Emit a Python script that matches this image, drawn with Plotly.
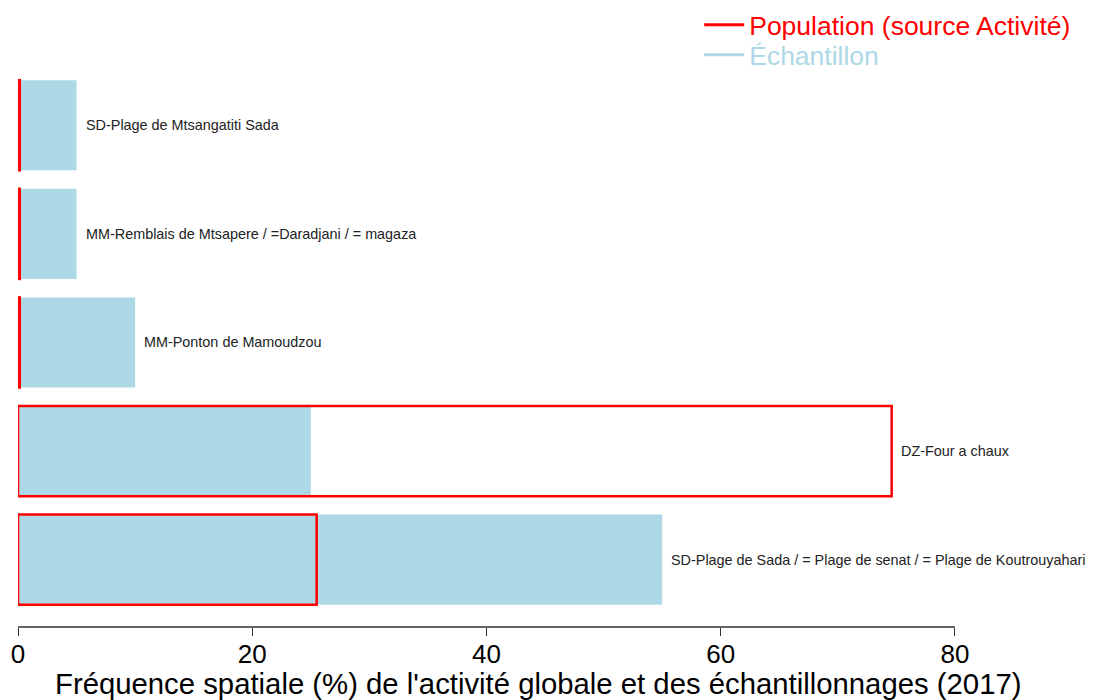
import plotly.graph_objects as go

categories = [
    "SD-Plage de Sada / = Plage de senat / = Plage de Koutrouyahari",
    "DZ-Four a chaux",
    "MM-Ponton de Mamoudzou",
    "MM-Remblais de Mtsapere / =Daradjani / = magaza",
    "SD-Plage de Mtsangatiti Sada",
]
echantillon = [55, 25, 10, 5, 5]
population = [25.5, 74.6, 0.15, 0.15, 0.15]
x_title = "Fréquence spatiale (%) de l'activité globale et des échantillonnages (2017)"

RED = "#FF0000"
BLUE = "#ADD8E6"

# page has an 8px body margin: figure coordinates = page coordinates - 8
W, H = 1092, 692
L, T, B = 10, 51, 73
PH = H - T - B  # plot height

fig = go.Figure()
fig.add_trace(go.Bar(
    y=categories, x=echantillon, orientation="h",
    marker=dict(color=BLUE, line=dict(width=0)),
    showlegend=False, hoverinfo="x+y",
))
fig.add_trace(go.Bar(
    y=categories, x=population, orientation="h",
    marker=dict(color="rgba(0,0,0,0)", line=dict(color=RED, width=2.5)),
    showlegend=False, hoverinfo="x+y",
))
# legend entries
fig.add_trace(go.Scatter(
    x=[None], y=[None], mode="lines", line=dict(color=RED, width=3),
    name="<span style='color:#FF0000'>Population (source Activité)</span>",
    legend="legend",
))
fig.add_trace(go.Scatter(
    x=[None], y=[None], mode="lines", line=dict(color=BLUE, width=3),
    name="<span style='color:#ADD8E6'>Échantillon</span>",
    legend="legend2",
))

for cat, e, p in zip(categories, echantillon, population):
    fig.add_annotation(
        x=max(e, p), y=cat, xref="x", yref="y", text=cat,
        showarrow=False, xanchor="left", xshift=7,
        font=dict(size=14.4, color="#222222"),
    )

fig.add_annotation(
    x=0.5, y=-(683 - 627) / PH, xref="paper", yref="paper", text=x_title,
    showarrow=False, xanchor="center", yanchor="middle",
    font=dict(size=29.3, color="black"),
)

legend_common = dict(
    xanchor="left", yanchor="middle", font=dict(size=26.5),
    bgcolor="rgba(0,0,0,0)", itemwidth=40,
)
fig.update_layout(
    width=W, height=H,
    margin=dict(l=L, r=42, t=T, b=B, autoexpand=False),
    plot_bgcolor="white", paper_bgcolor="white",
    barmode="overlay", bargap=0.17,
    font=dict(family="Liberation Sans, Arial, sans-serif", color="black"),
    legend=dict(x=0.655, y=(619 - 17) / PH, **legend_common),
    legend2=dict(x=0.655, y=(619 - 47) / PH, **legend_common),
    xaxis=dict(
        range=[0, 88.8], tickvals=[0, 20, 40, 60, 80],
        showgrid=False, zeroline=False, showline=False, automargin=False,
        ticks="outside", ticklen=8, tickcolor="#333333",
        tickfont=dict(size=26), ticklabelstandoff=-4,
    ),
    yaxis=dict(
        type="category", categoryorder="array", categoryarray=categories,
        range=[-0.62, 4.61], showticklabels=False, showgrid=False,
        zeroline=False, showline=False, ticks="", automargin=False,
    ),
    shapes=[dict(type="line", xref="x", yref="paper", x0=0, x1=80, y0=0, y1=0,
                 line=dict(color="#333333", width=1.5))],
)

fig.write_html("out.html")
